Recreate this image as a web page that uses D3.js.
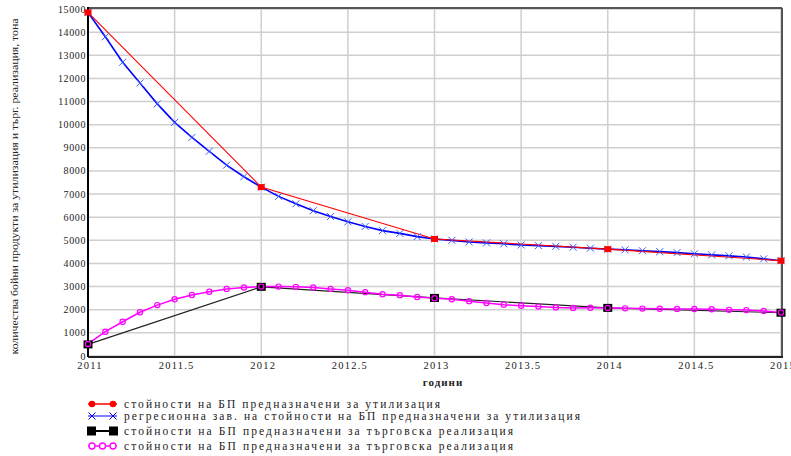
<!DOCTYPE html>
<html>
<head>
<meta charset="utf-8">
<script src="https://cdn.jsdelivr.net/npm/d3@7/dist/d3.min.js"></script>
<style>
  body { margin:0; background:white; }
  svg { display:block; }
  text { font-family:"Liberation Serif","DejaVu Serif",serif; fill:#222; }
</style>
</head>
<body>
<div id="chart"></div>
<script>
// yearly observations
var years = [2011, 2012, 2013, 2014, 2015];
var utilActual = [14850, 7300, 5060, 4620, 4120];
var tradeActual = [500, 2990, 2510, 2080, 1870];

// fitted points, every 0.1 year
var yearsFine = [2011.0, 2011.1, 2011.2, 2011.3, 2011.4, 2011.5, 2011.6, 2011.7, 2011.8, 2011.9,
                 2012.0, 2012.1, 2012.2, 2012.3, 2012.4, 2012.5, 2012.6, 2012.7, 2012.8, 2012.9,
                 2013.0, 2013.1, 2013.2, 2013.3, 2013.4, 2013.5, 2013.6, 2013.7, 2013.8, 2013.9,
                 2014.0, 2014.1, 2014.2, 2014.3, 2014.4, 2014.5, 2014.6, 2014.7, 2014.8, 2014.9,
                 2015.0];
var utilRegr = [14850, 13800, 12700, 11800, 10900, 10100, 9450, 8850, 8250, 7750,
                7300, 6900, 6580, 6280, 6030, 5800, 5600, 5420, 5300, 5160,
                5060, 5000, 4930, 4890, 4850, 4800, 4770, 4740, 4700, 4660,
                4620, 4590, 4550, 4510, 4470, 4420, 4370, 4330, 4280, 4200,
                4120];
var tradeRegr = [520, 1050, 1480, 1890, 2200, 2450, 2640, 2780, 2900, 2960,
                 3000, 3000, 2990, 2960, 2900, 2840, 2760, 2670, 2630, 2550,
                 2500, 2450, 2370, 2290, 2220, 2170, 2135, 2100, 2080, 2085,
                 2080, 2060, 2050, 2040, 2035, 2030, 2020, 1995, 1985, 1950,
                 1880];

var xTicks = [2011, 2011.5, 2012, 2012.5, 2013, 2013.5, 2014, 2014.5, 2015];
var yTicks = [0, 1000, 2000, 3000, 4000, 5000, 6000, 7000, 8000, 9000, 10000,
              11000, 12000, 13000, 14000, 15000];

var yTitle = 'количества бойни продукти за утилизация и търг. реализация, тона';
var xTitle = 'години';
var legendLabels = [
  'стойности на БП предназначени за утилизация',
  'регресионна зав. на стойности на БП предназначени за утилизация',
  'стойности на БП предназначени за търговска реализация',
  'стойности на БП предназначени за търговска реализация'
];

var W = 791, H = 456;
var L = 88, R = 781, T = 9, B = 356;

var svg = d3.select('#chart').append('svg')
  .attr('width', W).attr('height', H);

var x = d3.scaleLinear().domain([2011, 2015]).range([L, R]);
var y = d3.scaleLinear().domain([0, 15000]).range([B, T]);

// grid
svg.append('g').selectAll('line').data(xTicks).enter().append('line')
  .attr('x1', function(d){ return x(d); }).attr('x2', function(d){ return x(d); })
  .attr('y1', T).attr('y2', B)
  .attr('stroke', '#cfcfcf').attr('stroke-width', 1.5);
svg.append('g').selectAll('line').data(yTicks).enter().append('line')
  .attr('x1', L).attr('x2', R)
  .attr('y1', function(d){ return y(d); }).attr('y2', function(d){ return y(d); })
  .attr('stroke', '#cfcfcf').attr('stroke-width', 1.5);

// frame
svg.append('line').attr('x1', L).attr('x2', R + 1).attr('y1', T - 1).attr('y2', T - 1)
  .attr('stroke', '#555').attr('stroke-width', 2);
svg.append('line').attr('x1', R + 1).attr('x2', R + 1).attr('y1', T - 1).attr('y2', B)
  .attr('stroke', '#555').attr('stroke-width', 2);
svg.append('line').attr('x1', L).attr('x2', L).attr('y1', T - 2).attr('y2', B + 1)
  .attr('stroke', '#000').attr('stroke-width', 2);
svg.append('line').attr('x1', L).attr('x2', R + 2).attr('y1', B + 1).attr('y2', B + 1)
  .attr('stroke', '#222').attr('stroke-width', 2);

// tick labels
svg.append('g').selectAll('text').data(yTicks).enter().append('text')
  .attr('x', L - 2).attr('y', function(d){ return y(d) + 3.5; })
  .attr('text-anchor', 'end').attr('font-size', 10).attr('letter-spacing', 0.6)
  .text(function(d){ return d; });
svg.append('g').selectAll('text').data(xTicks).enter().append('text')
  .attr('x', function(d){ return x(d) + 2; }).attr('y', B + 13)
  .attr('text-anchor', 'middle').attr('font-size', 10.5).attr('letter-spacing', 1.2)
  .text(function(d){ return d; });

// titles
svg.append('text')
  .attr('transform', 'translate(18,' + ((T + B) / 2 + 4) + ') rotate(-90)')
  .attr('text-anchor', 'middle').attr('font-size', 10)
  .attr('textLength', 336).attr('lengthAdjust', 'spacingAndGlyphs')
  .text(yTitle);
svg.append('text')
  .attr('x', 443).attr('y', 386).attr('text-anchor', 'middle')
  .attr('font-size', 11).attr('font-weight', 'bold').attr('letter-spacing', 1)
  .text(xTitle);

var line = d3.line()
  .x(function(d){ return x(d[0]); })
  .y(function(d){ return y(d[1]); });

var regrPts = d3.zip(yearsFine, utilRegr);
var utilPts = d3.zip(years, utilActual);
var tradePts = d3.zip(years, tradeActual);
var tradeRegrPts = d3.zip(yearsFine, tradeRegr);

function xMark(g, px, py, s, color) {
  g.append('path')
    .attr('d', 'M' + (px - s) + ',' + (py - s) + 'L' + (px + s) + ',' + (py + s) +
               'M' + (px - s) + ',' + (py + s) + 'L' + (px + s) + ',' + (py - s))
    .attr('stroke', color).attr('stroke-width', 1).attr('fill', 'none');
}

// trade series
svg.append('path').datum(tradePts).attr('d', line)
  .attr('fill', 'none').attr('stroke', '#222').attr('stroke-width', 1.2);
svg.append('path').datum(tradeRegrPts).attr('d', line)
  .attr('fill', 'none').attr('stroke', '#ff00ff').attr('stroke-width', 1.5);
svg.append('g').selectAll('rect').data(tradePts).enter().append('rect')
  .attr('x', function(d){ return x(d[0]) - 4.5; }).attr('y', function(d){ return y(d[1]) - 4; })
  .attr('width', 9).attr('height', 8).attr('fill', '#000');
svg.append('g').selectAll('circle').data(tradeRegrPts).enter().append('circle')
  .attr('cx', function(d){ return x(d[0]); }).attr('cy', function(d){ return y(d[1]); })
  .attr('r', 2.6).attr('fill', 'none').attr('stroke', '#ff00ff').attr('stroke-width', 1.2);

// utilisation series
svg.append('path').datum(regrPts).attr('d', line)
  .attr('fill', 'none').attr('stroke', '#0000ff').attr('stroke-width', 1.6);
svg.append('path').datum(utilPts).attr('d', line)
  .attr('fill', 'none').attr('stroke', '#ff0000').attr('stroke-width', 1.1);
var gx = svg.append('g');
regrPts.forEach(function(d){ xMark(gx, x(d[0]), y(d[1]), 3.5, '#3b5cff'); });
svg.append('g').selectAll('rect').data(utilPts).enter().append('rect')
  .attr('x', function(d){ return x(d[0]) - 3.5; }).attr('y', function(d){ return y(d[1]) - 3; })
  .attr('width', 7).attr('height', 6).attr('fill', '#ff0000');

// legend
var legY = [404, 416, 431, 446];
var legLen = [316, 456, 389, 389];
var leg = svg.append('g');
var lx1 = 88, lx2 = 117;
// red
leg.append('line').attr('x1', lx1).attr('x2', lx2).attr('y1', legY[0]).attr('y2', legY[0])
  .attr('stroke', '#ff0000').attr('stroke-width', 1.5);
[lx1 + 4, lx2 - 4].forEach(function(cx){
  leg.append('circle').attr('cx', cx).attr('cy', legY[0]).attr('r', 3.3).attr('fill', '#ff0000');
});
// blue
leg.append('line').attr('x1', lx1).attr('x2', lx2).attr('y1', legY[1]).attr('y2', legY[1])
  .attr('stroke', '#0000ff').attr('stroke-width', 1);
[lx1 + 4, lx2 - 4].forEach(function(cx){ xMark(leg, cx, legY[1], 3.5, '#0000ff'); });
// black
leg.append('line').attr('x1', lx1).attr('x2', lx2).attr('y1', legY[2]).attr('y2', legY[2])
  .attr('stroke', '#000').attr('stroke-width', 2);
[lx1 + 3.5, lx2 - 3.5].forEach(function(cx){
  leg.append('rect').attr('x', cx - 4.5).attr('y', legY[2] - 4.5).attr('width', 9).attr('height', 9).attr('fill', '#000');
});
// magenta
leg.append('line').attr('x1', lx1).attr('x2', lx2).attr('y1', legY[3]).attr('y2', legY[3])
  .attr('stroke', '#ff00ff').attr('stroke-width', 1.5);
[lx1 + 4, (lx1 + lx2) / 2, lx2 - 4].forEach(function(cx){
  leg.append('circle').attr('cx', cx).attr('cy', legY[3]).attr('r', 3).attr('fill', 'white')
    .attr('stroke', '#ff00ff').attr('stroke-width', 1.3);
});
leg.selectAll('text').data(legendLabels).enter().append('text')
  .attr('x', 124).attr('y', function(d, i){ return legY[i] + 4; })
  .attr('font-size', 11.5)
  .attr('textLength', function(d, i){ return legLen[i]; }).attr('lengthAdjust', 'spacing')
  .text(function(d){ return d; });
</script>
</body>
</html>
